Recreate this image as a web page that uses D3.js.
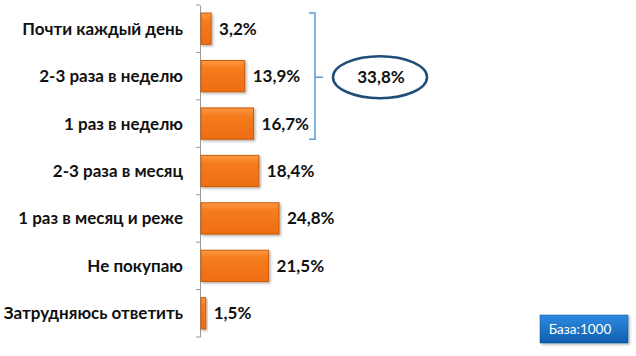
<!DOCTYPE html>
<html>
<head>
<meta charset="utf-8">
<script src="https://cdn.jsdelivr.net/npm/d3@7"></script>
<style>
  body { margin: 0; background: #fff; }
  svg { display: block; font-family: Lato, "Open Sans", sans-serif; }
</style>
</head>
<body>
<svg id="chart"></svg>
<script>
;(() => {

    const categories = [
        'Почти каждый день',
        '2-3 раза в неделю',
        '1 раз в неделю',
        '2-3 раза в месяц',
        '1 раз в месяц и реже',
        'Не покупаю',
        'Затрудняюсь ответить'
    ];
    const shares = [3.2, 13.9, 16.7, 18.4, 24.8, 21.5, 1.5];
    // first three categories are summed in the bracket
    const bracketCategories = categories.slice(0, 3);
    const bracketTotal = '33,8%';
    const baseNote = 'База:1000';

    const renderWidth = 636;
    const renderHeight = 356;
    const axisX = 201;

    const svg = d3.select('#chart')
        .attr('width', renderWidth)
        .attr('height', renderHeight);

    const defs = svg.append('defs');
    const barGrad = defs.append('linearGradient')
        .attr('id', 'barGrad').attr('x1', 0).attr('y1', 0).attr('x2', 0).attr('y2', 1);
    barGrad.append('stop').attr('offset', '0%').attr('stop-color', '#ff9a45');
    barGrad.append('stop').attr('offset', '25%').attr('stop-color', '#f57c1f');
    barGrad.append('stop').attr('offset', '100%').attr('stop-color', '#ee6d10');

    const boxGrad = defs.append('linearGradient')
        .attr('id', 'boxGrad').attr('x1', 0).attr('y1', 0).attr('x2', 0).attr('y2', 1);
    boxGrad.append('stop').attr('offset', '0%').attr('stop-color', '#2f8ae0');
    boxGrad.append('stop').attr('offset', '100%').attr('stop-color', '#0f5fae');

    // soft shadow under bars and the note box
    const shadow = defs.append('filter').attr('id', 'shadow')
        .attr('x', '-20%').attr('y', '-20%').attr('width', '160%').attr('height', '160%');
    shadow.append('feDropShadow')
        .attr('dx', 1.5).attr('dy', 1.5).attr('stdDeviation', 1.2)
        .attr('flood-color', '#000').attr('flood-opacity', 0.3);

    const x = d3.scaleLinear().domain([0, 24.8]).range([axisX, axisX + 78]);
    const y = d3.scaleBand().domain(categories).range([5, 337]).paddingInner(0.34).paddingOuter(0.17);

    // axis line with tick marks between bands
    const yAxis = d3.axisLeft(y).tickSize(0).tickFormat('');
    svg.append('g').attr('transform', `translate(${axisX - 1},0)`).call(yAxis)
        .call(g => g.select('.domain').attr('stroke', '#999'));
    const tickYs = d3.range(categories.length + 1).map(i => 5 + i * (332 / categories.length));
    svg.append('g').selectAll('line').data(tickYs).enter().append('line')
        .attr('x1', axisX - 5).attr('x2', axisX - 1)
        .attr('y1', d => d).attr('y2', d => d)
        .attr('stroke', '#999');

    // category labels
    svg.append('g').selectAll('text').data(categories).enter().append('text')
        .attr('x', 183)
        .attr('y', d => y(d) + y.bandwidth() / 2)
        .attr('dy', '0.35em')
        .attr('text-anchor', 'end')
        .attr('font-size', 17)
        .attr('font-weight', 'bold')
        .attr('fill', '#111')
        .text(d => d);

    // bars
    svg.append('g').selectAll('rect').data(shares).enter().append('rect')
        .attr('x', axisX)
        .attr('y', (d, i) => y(categories[i]))
        .attr('width', d => x(d) - axisX)
        .attr('height', y.bandwidth())
        .attr('fill', 'url(#barGrad)')
        .attr('stroke', '#c85a0a')
        .attr('stroke-width', 1)
        .attr('filter', 'url(#shadow)');

    // value labels
    svg.append('g').selectAll('text').data(shares).enter().append('text')
        .attr('x', d => x(d) + 8)
        .attr('y', (d, i) => y(categories[i]) + y.bandwidth() / 2)
        .attr('dy', '0.35em')
        .attr('font-size', 17)
        .attr('font-weight', 'bold')
        .attr('fill', '#111')
        .text(d => d.toFixed(1).replace('.', ',') + '%');

    // bracket over the first three rows
    const bTop = y(bracketCategories[0]);
    const bBot = y(bracketCategories[2]) + y.bandwidth();
    const bMid = (bTop + bBot) / 2 + 1;
    const bx = 315;
    svg.append('path')
        .attr('d', `M${bx - 6},${bTop} H${bx} V${bBot} H${bx - 6} M${bx},${bMid} H${bx + 8}`)
        .attr('fill', 'none')
        .attr('stroke', '#5b9bd5')
        .attr('stroke-width', 1.5);

    svg.append('ellipse')
        .attr('cx', 380).attr('cy', bMid)
        .attr('rx', 47).attr('ry', 21)
        .attr('fill', '#fff')
        .attr('stroke', '#1f4e79')
        .attr('stroke-width', 2.5);
    svg.append('text')
        .attr('x', 381).attr('y', bMid)
        .attr('dy', '0.35em')
        .attr('text-anchor', 'middle')
        .attr('font-size', 17)
        .attr('font-weight', 'bold')
        .attr('fill', '#111')
        .text(bracketTotal);

    // base note box
    svg.append('rect')
        .attr('x', 540).attr('y', 315).attr('width', 88).attr('height', 28)
        .attr('fill', 'url(#boxGrad)')
        .attr('stroke', '#0d4f91').attr('stroke-width', 0.5)
        .attr('filter', 'url(#shadow)');
    svg.append('text')
        .attr('x', 580).attr('y', 329)
        .attr('dy', '0.35em')
        .attr('text-anchor', 'middle')
        .attr('font-size', 13.5)
        .attr('fill', '#fff')
        .text(baseNote);

})();
</script>
</body>
</html>
